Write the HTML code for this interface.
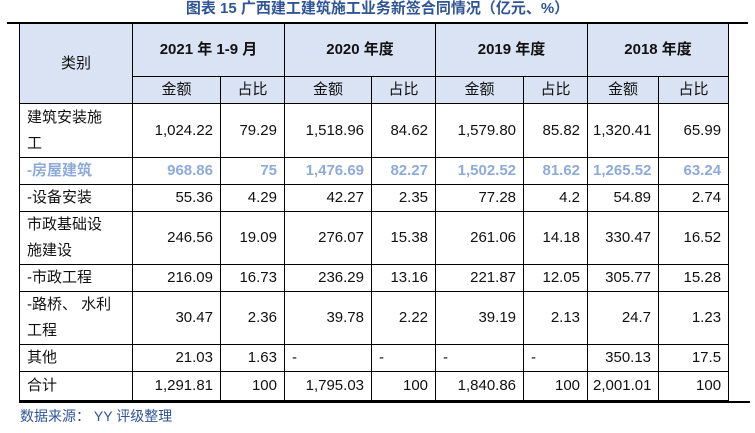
<!DOCTYPE html>
<html><head><meta charset="utf-8"><style>
body{margin:0;width:755px;height:433px;background:#fff;position:relative;overflow:hidden;font-family:"Liberation Sans","Noto Sans CJK SC",sans-serif;}
.title{position:absolute;top:-1px;left:0;width:755px;text-align:center;font-size:15px;font-weight:bold;color:#2f5597;line-height:19px;}
.rule{position:absolute;height:2px;background:#000;}
table{position:absolute;left:19px;top:23px;width:709px;border-collapse:collapse;table-layout:fixed;font-size:15px;color:#111;}
td{border:1px solid #000;padding:0 7px 0 5px;text-align:right;line-height:26px;overflow:hidden;white-space:nowrap;}
td.l{text-align:left;white-space:normal;padding:0 22px 0 7px;}
.h td{background:#dae3f3;text-align:center;padding:0;}
.hb{font-weight:bold;}
.hl td{color:#8eaadb;font-weight:bold;}
.src{position:absolute;left:20px;top:406px;font-size:14px;color:#2f5597;}
</style></head><body>
<div class="title">图表 15 广西建工建筑施工业务新签合同情况（亿元、%）</div>
<div class="rule" style="left:7px;top:22px;width:741px"></div>
<div class="rule" style="left:19px;top:401px;width:731px"></div>
<table>
<colgroup><col style="width:113px"><col style="width:88px"><col style="width:64px"><col style="width:87px"><col style="width:64px"><col style="width:88px"><col style="width:64px"><col style="width:71px"><col style="width:70px"></colgroup>
<tr class="h" style="height:53px"><td rowspan="2">类别</td><td colspan="2" class="hb">2021 年 1-9 月</td><td colspan="2" class="hb">2020 年度</td><td colspan="2" class="hb">2019 年度</td><td colspan="2" class="hb">2018 年度</td></tr>
<tr class="h" style="height:27px"><td>金额</td><td>占比</td><td>金额</td><td>占比</td><td>金额</td><td>占比</td><td>金额</td><td>占比</td></tr>
<tr style="height:54px"><td class="l">建筑安装施工</td><td>1,024.22</td><td>79.29</td><td>1,518.96</td><td>84.62</td><td>1,579.80</td><td>85.82</td><td>1,320.41</td><td>65.99</td></tr>
<tr class="hl" style="height:27px"><td class="l">-房屋建筑</td><td>968.86</td><td>75</td><td>1,476.69</td><td>82.27</td><td>1,502.52</td><td>81.62</td><td>1,265.52</td><td>63.24</td></tr>
<tr style="height:26px"><td class="l">-设备安装</td><td>55.36</td><td>4.29</td><td>42.27</td><td>2.35</td><td>77.28</td><td>4.2</td><td>54.89</td><td>2.74</td></tr>
<tr style="height:53px"><td class="l">市政基础设施建设</td><td>246.56</td><td>19.09</td><td>276.07</td><td>15.38</td><td>261.06</td><td>14.18</td><td>330.47</td><td>16.52</td></tr>
<tr style="height:27px"><td class="l">-市政工程</td><td>216.09</td><td>16.73</td><td>236.29</td><td>13.16</td><td>221.87</td><td>12.05</td><td>305.77</td><td>15.28</td></tr>
<tr style="height:53px"><td class="l" style="padding-right:4px">-路桥、 水利<br>工程</td><td>30.47</td><td>2.36</td><td>39.78</td><td>2.22</td><td>39.19</td><td>2.13</td><td>24.7</td><td>1.23</td></tr>
<tr style="height:27px"><td class="l">其他</td><td>21.03</td><td>1.63</td><td class="l">-</td><td class="l">-</td><td class="l">-</td><td class="l">-</td><td>350.13</td><td>17.5</td></tr>
<tr style="height:29px"><td class="l">合计</td><td>1,291.81</td><td>100</td><td>1,795.03</td><td>100</td><td>1,840.86</td><td>100</td><td>2,001.01</td><td>100</td></tr>
</table>
<div class="src">数据来源： YY 评级整理</div>
</body></html>
